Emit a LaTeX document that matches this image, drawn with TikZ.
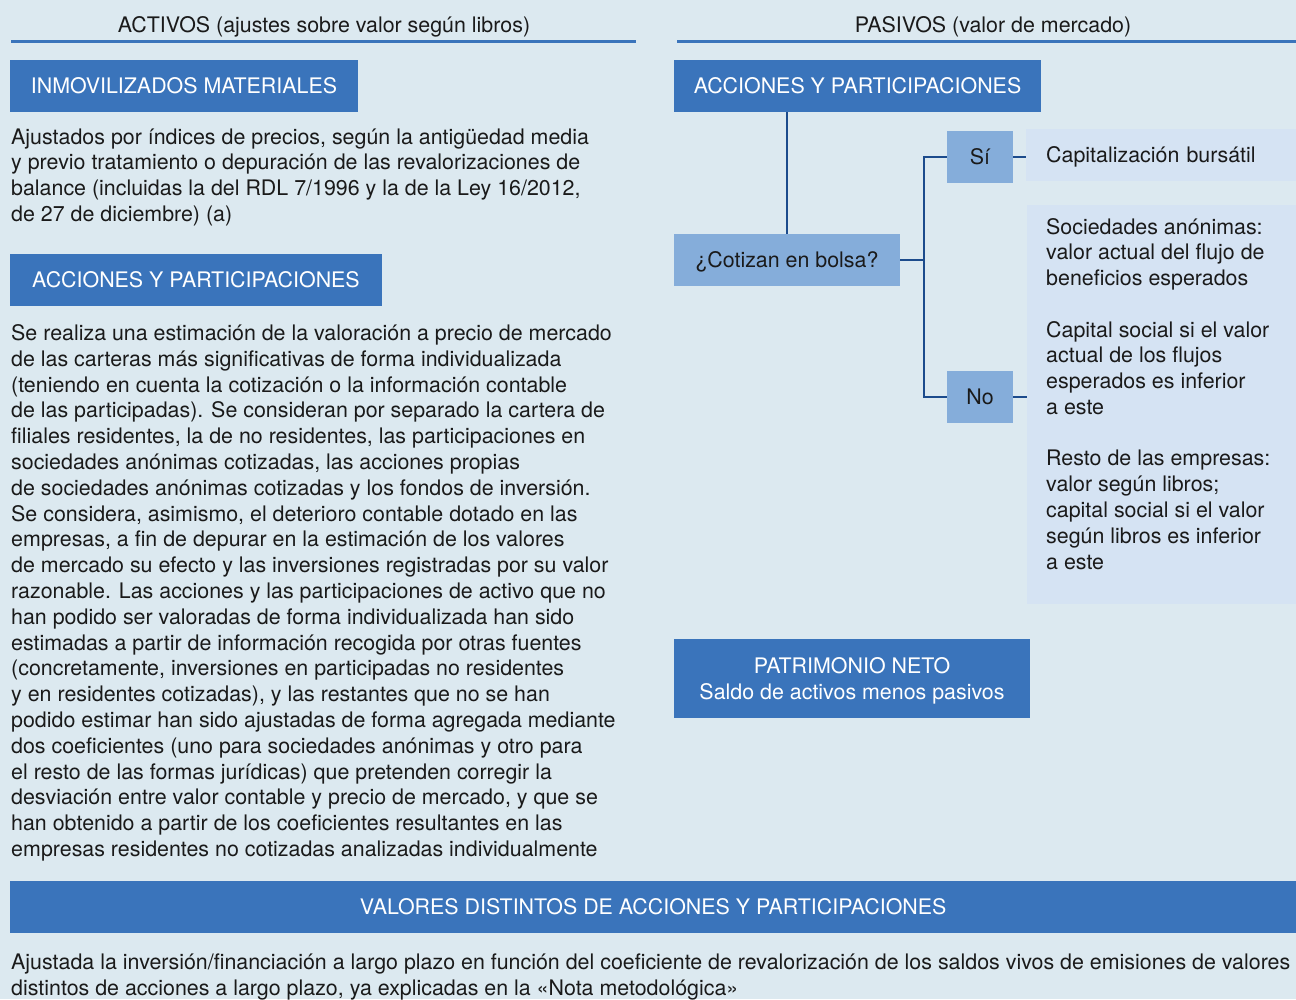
\documentclass[tikz,border=0pt]{standalone}
\usepackage{fontspec}
\setmainfont{TeX Gyre Heros}
\usetikzlibrary{positioning}
\definecolor{fondo}{HTML}{DCE9F0}
\definecolor{azul}{HTML}{3A74BB}
\definecolor{azulmedio}{HTML}{85ADDA}
\definecolor{azulclaro}{HTML}{D5E3F3}
\definecolor{azuloscuro}{HTML}{1C4B8C}
\definecolor{texto}{HTML}{1A1A1A}
\begin{document}
\begin{tikzpicture}[x=1pt, y=-1pt,
        font=\fontsize{21.4}{25.8}\selectfont, text=texto,
        titulo/.style={fill=azul, text=white, minimum height=52pt, inner sep=0pt},
        pregunta/.style={fill=azulmedio, minimum height=52pt, inner sep=0pt, text height=15.4pt, text depth=0pt},
        resultado/.style={fill=azulclaro, inner sep=0pt},
        parrafo/.style={anchor=base west, align=left, inner sep=0pt},
        conector/.style={draw=azuloscuro, line width=1.3pt},
        regla/.style={draw=azul, line width=3pt}]
    \fill[fondo] (0,0) rectangle (1296,999);
    \useasboundingbox (0,0) rectangle (1296,999);
    \clip (0,0) rectangle (1296,999);

    % cabeceras
    \node[anchor=base] (activos) at (324,32) {ACTIVOS (ajustes sobre valor según libros)};
    \node[anchor=base] (pasivos) at (993,32) {PASIVOS (valor de mercado)};
    \draw[regla] (11,41) -- (636,41);
    \draw[regla] (677,41) -- (1296,41);

    % activos (parrafos anclados en la linea base de su ultima linea)
    \node[titulo, minimum width=348pt] (inmov) at (184,86) {INMOVILIZADOS MATERIALES};
    \node[parrafo] (inmovtxt) at (11,221.5) {Ajustados por índices de precios, según la antigüedad media\\
        y previo tratamiento o depuración de las revalorizaciones de\\
        balance (incluidas la del RDL 7/1996 y la de la Ley 16/2012,\\
        de 27 de diciembre) (a)};
    \node[titulo, minimum width=372pt] (accact) at (196,280) {ACCIONES Y PARTICIPACIONES};
    \node[parrafo] (acctxt) at (11,856.5) {Se realiza una estimación de la valoración a precio de mercado\\
        de las carteras más significativas de forma individualizada\\
        (teniendo en cuenta la cotización o la información contable\\
        de las participadas). Se consideran por separado la cartera de\\
        filiales residentes, la de no residentes, las participaciones en\\
        sociedades anónimas cotizadas, las acciones propias\\
        de sociedades anónimas cotizadas y los fondos de inversión.\\
        Se considera, asimismo, el deterioro contable dotado en las\\
        empresas, a fin de depurar en la estimación de los valores\\
        de mercado su efecto y las inversiones registradas por su valor\\
        razonable. Las acciones y las participaciones de activo que no\\
        han podido ser valoradas de forma individualizada han sido\\
        estimadas a partir de información recogida por otras fuentes\\
        (concretamente, inversiones en participadas no residentes\\
        y en residentes cotizadas), y las restantes que no se han\\
        podido estimar han sido ajustadas de forma agregada mediante\\
        dos coeficientes (uno para sociedades anónimas y otro para\\
        el resto de las formas jurídicas) que pretenden corregir la\\
        desviación entre valor contable y precio de mercado, y que se\\
        han obtenido a partir de los coeficientes resultantes en las\\
        empresas residentes no cotizadas analizadas individualmente};

    % pasivos
    \node[titulo, minimum width=367pt] (accpas) at (857.5,86) {ACCIONES Y PARTICIPACIONES};
    \node[pregunta, minimum width=226pt] (cotiza) at (787,260) {¿Cotizan en bolsa?};
    \node[pregunta, minimum width=66pt] (si) at (980,157) {Sí};
    \node[pregunta, minimum width=66pt] (no) at (980,397) {No};
    \node[resultado, anchor=west, minimum height=52pt, inner xsep=20pt, text width=230pt, align=left, text height=15.4pt, text depth=0pt] (capital) at (1026,155) {Capitalización bursátil};
    \node[resultado, anchor=north west, minimum width=269pt, minimum height=399pt] (nobox) at (1027,205) {};
    \node[parrafo] (notxt) at (1046,569) {Sociedades anónimas:\\
        valor actual del flujo de\\
        beneficios esperados\\[25.6pt]
        Capital social si el valor\\
        actual de los flujos\\
        esperados es inferior\\
        a este\\[25.6pt]
        Resto de las empresas:\\
        valor según libros;\\
        capital social si el valor\\
        según libros es inferior\\
        a este};
    \node[titulo, minimum width=356pt, minimum height=79pt, align=center, text depth=0pt] (patrim) at (852,678.5) {PATRIMONIO NETO\\ Saldo de activos menos pasivos};

    \coordinate (fork) at (924,260);
    \draw[conector] (cotiza.north) -- (cotiza.north |- accpas.south);
    \draw[conector] (cotiza.east) -- (fork);
    \draw[conector] (si.west) -| (fork) |- (no.west);
    \draw[conector] (si.east) -- (si.east -| capital.west);
    \draw[conector] (no.east) -- (no.east -| nobox.west);

    % valores distintos
    \node[titulo, anchor=west, minimum width=1286pt] (valores) at (10,907) {VALORES DISTINTOS DE ACCIONES Y PARTICIPACIONES};
    \node[parrafo] (valtxt) at (11,995.5) {Ajustada la inversión/financiación a largo plazo en función del coeficiente de revalorización de los saldos vivos de emisiones de valores\\
        distintos de acciones a largo plazo, ya explicadas en la «Nota metodológica»};
\end{tikzpicture}
\end{document}
